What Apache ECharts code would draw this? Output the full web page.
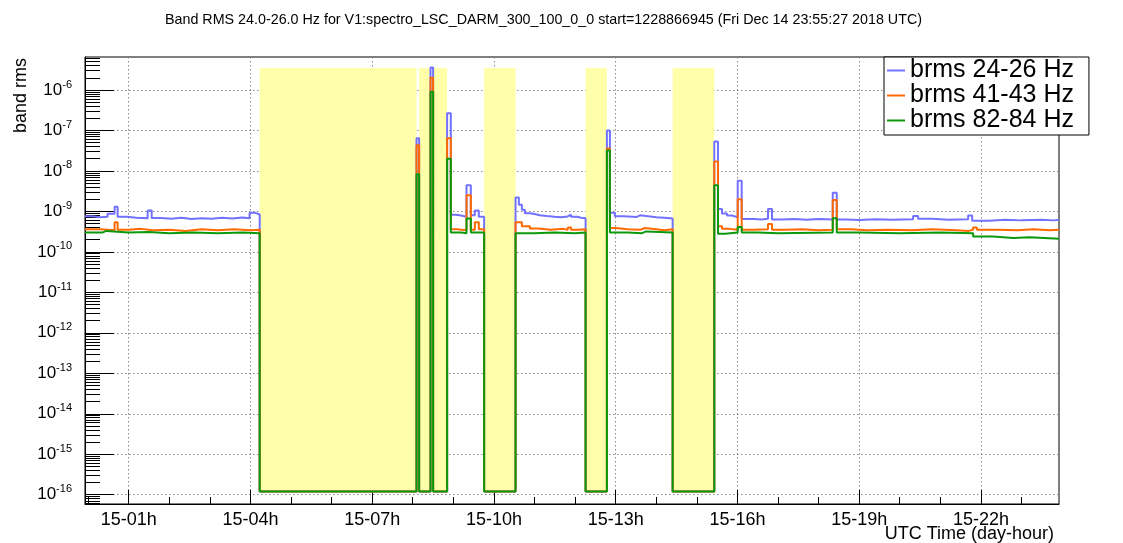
<!DOCTYPE html>
<html lang="en">
<head>
<meta charset="utf-8" />
<title>Band RMS</title>
<script src="https://cdn.jsdelivr.net/npm/echarts@6/dist/echarts.min.js"></script>
<style>
  body { margin: 0; background: #fff; }
  #chart { width: 1123px; height: 543px; }
</style>
</head>
<body>
<div id="chart"></div>
<script>
// hours relative to Dec 15 00:00 UTC; window is start .. start + 24h
var xStart = -0.0758;
var xEnd = 23.924;
// y range as powers of ten
var yLogMin = -16.23;
var yLogMax = -5.185;

var GAP = 1.2e-16;          // level the curves fall to when there is no data
var fillTop = 3.5e-6;       // yellow boxes span min..max of the data
var fillBottom = 1.2e-16;

var majorHours = [1, 4, 7, 10, 13, 16, 19, 22];
var minorHours = [0, 2, 3, 5, 6, 8, 9, 11, 12, 14, 15, 17, 18, 20, 21, 23];
var decades = [-16, -15, -14, -13, -12, -11, -10, -9, -8, -7, -6];

var gapStart = [4.229, 8.157, 8.502, 9.759, 12.259, 14.404];
var gapEnd   = [8.093, 8.438, 8.847, 10.533, 12.784, 15.430];

var names = ['brms 24-26 Hz', 'brms 41-43 Hz', 'brms 82-84 Hz'];
var colors = ['#7272ff', '#ff6a00', '#0a990a'];

// [hour, rms]  (value holds until the next point)
var brms24 = [
  [-0.076, 7.6e-10], [0.10, 7.2e-10], [0.30, 7.4e-10], [0.48, 8.8e-10], [0.654, 1.3e-9], [0.728, 7.4e-10],
  [0.95, 7.0e-10], [1.20, 6.8e-10], [1.468, 1.05e-9], [1.567, 6.9e-10], [1.80, 6.6e-10], [2.05, 7.0e-10],
  [2.30, 6.5e-10], [2.55, 6.8e-10], [2.80, 6.6e-10], [3.05, 7.0e-10], [3.30, 6.7e-10], [3.55, 7.1e-10],
  [3.80, 6.8e-10], [3.98, 9.3e-10], [4.106, 8.4e-10],
  [4.229, GAP], [8.093, 6.4e-8], [8.157, GAP], [8.438, 3.6e-6], [8.502, GAP], [8.847, 2.66e-7],
  [8.938, 8.3e-10], [9.05, 8.0e-10], [9.16, 7.4e-10], [9.325, 4.4e-9], [9.431, 8.0e-10], [9.53, 1.05e-9], [9.628, 7.4e-10],
  [9.759, GAP],
  [10.533, 2.2e-9], [10.615, 1.45e-9], [10.689, 1.1e-9], [10.763, 9.0e-10], [10.886, 8.6e-10], [11.0, 8.0e-10],
  [11.13, 7.7e-10], [11.3, 7.4e-10], [11.5, 7.2e-10], [11.65, 7.5e-10], [11.82, 8.3e-10], [11.9, 7.4e-10],
  [12.05, 7.0e-10], [12.15, 6.8e-10],
  [12.259, GAP], [12.784, 1.0e-7],
  [12.858, 9.3e-10], [12.981, 7.6e-10], [13.2, 7.3e-10], [13.52, 8.0e-10], [13.6, 7.6e-10], [13.8, 7.2e-10],
  [14.0, 7.0e-10], [14.2, 6.7e-10],
  [14.404, GAP], [15.43, 5.3e-8],
  [15.521, 1.15e-9], [15.62, 8.9e-10], [15.743, 7.9e-10], [15.866, 7.2e-10], [16.007, 5.7e-9], [16.105, 6.5e-10],
  [16.4, 6.3e-10], [16.6, 6.6e-10], [16.754, 1.15e-9], [16.852, 6.3e-10], [17.1, 6.5e-10], [17.4, 6.2e-10],
  [17.7, 6.5e-10], [18.0, 6.3e-10], [18.349, 2.9e-9], [18.448, 6.3e-10], [18.7, 6.1e-10], [19.0, 6.4e-10],
  [19.4, 6.2e-10], [19.8, 6.4e-10], [20.329, 7.7e-10], [20.452, 6.6e-10], [20.8, 6.2e-10], [21.2, 6.4e-10],
  [21.685, 7.9e-10], [21.784, 5.9e-10], [22.2, 6.2e-10], [22.6, 6.0e-10], [23.0, 6.2e-10], [23.5, 6.0e-10],
  [23.8, 6.2e-10], [23.924, 6.2e-10]
];

var brms41 = [
  [-0.076, 3.6e-10], [0.30, 3.4e-10], [0.654, 5.4e-10], [0.728, 3.5e-10], [1.0, 3.7e-10], [1.3, 3.4e-10],
  [1.6, 3.5e-10], [2.0, 3.3e-10], [2.4, 3.6e-10], [2.8, 3.4e-10], [3.2, 3.6e-10], [3.6, 3.4e-10], [4.0, 3.5e-10],
  [4.229, GAP], [8.093, 4.3e-8], [8.157, GAP], [8.438, 2.0e-6], [8.502, GAP], [8.847, 6.4e-8],
  [8.938, 3.6e-10], [9.1, 3.4e-10], [9.325, 2.5e-9], [9.431, 3.5e-10], [9.53, 5.4e-10], [9.628, 3.6e-10],
  [9.759, GAP],
  [10.533, 5.4e-10], [10.689, 4.3e-10], [10.886, 3.8e-10], [11.1, 3.5e-10], [11.4, 3.7e-10], [11.7, 3.5e-10],
  [11.82, 4.0e-10], [11.9, 3.5e-10], [12.1, 3.6e-10],
  [12.259, GAP], [12.784, 3.6e-8],
  [12.858, 3.9e-10], [13.0, 3.6e-10], [13.3, 3.5e-10], [13.6, 3.9e-10], [13.72, 3.6e-10], [14.0, 3.4e-10], [14.2, 3.6e-10],
  [14.404, GAP], [15.43, 1.7e-8],
  [15.521, 4.3e-10], [15.62, 3.7e-10], [15.8, 3.5e-10], [16.007, 2.0e-9], [16.105, 3.5e-10], [16.4, 3.6e-10],
  [16.754, 4.9e-10], [16.852, 3.5e-10], [17.2, 3.6e-10], [17.6, 3.4e-10], [18.0, 3.5e-10], [18.349, 1.9e-9],
  [18.448, 3.6e-10], [18.8, 3.4e-10], [19.2, 3.5e-10], [19.7, 3.4e-10], [20.3, 3.6e-10], [20.8, 3.4e-10],
  [21.4, 3.3e-10], [21.7, 3.5e-10], [21.808, 4.0e-10], [21.9, 3.5e-10], [22.4, 3.4e-10], [22.9, 3.6e-10],
  [23.3, 3.4e-10], [23.7, 3.5e-10], [23.924, 3.5e-10]
];

var brms82 = [
  [-0.076, 3.0e-10], [0.35, 3.3e-10], [0.45, 3.0e-10], [1.0, 3.1e-10], [1.5, 2.9e-10], [2.0, 3.0e-10],
  [2.6, 2.9e-10], [3.2, 3.0e-10], [3.8, 2.9e-10],
  [4.229, GAP], [8.093, 8.3e-9], [8.157, GAP], [8.438, 9.1e-7], [8.502, GAP], [8.847, 2.0e-8],
  [8.938, 3.0e-10], [9.2, 2.9e-10], [9.325, 6.7e-10], [9.431, 3.0e-10],
  [9.759, GAP],
  [10.533, 2.9e-10], [11.0, 3.0e-10], [11.5, 2.9e-10], [12.0, 3.0e-10],
  [12.259, GAP], [12.784, 3.2e-8],
  [12.858, 3.0e-10], [13.3, 2.9e-10], [13.65, 3.2e-10], [13.75, 3.0e-10],
  [14.404, GAP], [15.43, 4.4e-9],
  [15.521, 2.8e-10], [15.7, 3.0e-10], [16.007, 4.1e-10], [16.105, 3.0e-10], [16.5, 2.9e-10], [17.0, 3.0e-10],
  [18.349, 6.8e-10], [18.448, 3.0e-10], [19.0, 2.9e-10], [20.0, 3.0e-10], [21.0, 2.9e-10], [21.808, 2.4e-10],
  [22.3, 2.2e-10], [22.8, 2.3e-10], [23.2, 2.1e-10], [23.924, 2.1e-10]
];

// minor log ticks at 2..9 x 10^n
var minorLog = [];
for (var n = -17; n <= -6; n++) {
  for (var m = 2; m <= 9; m++) {
    var lv = n + Math.log10(m);
    if (lv > yLogMin && lv < yLogMax) minorLog.push(lv);
  }
}

var gapAreas = gapStart.map(function (s, i) {
  return [{ xAxis: s, yAxis: fillTop }, { xAxis: gapEnd[i], yAxis: fillBottom }];
});

var font = 'Liberation Sans, Arial, sans-serif';
var gridStyle = { color: '#8a8a8a', type: [1.5, 2.5], width: 1 };

var chart = echarts.init(document.getElementById('chart'));

var option = {
  animation: false,
  textStyle: { fontFamily: font, color: '#000' },
  title: [
    {
      text: 'Band RMS 24.0-26.0 Hz for V1:spectro_LSC_DARM_300_100_0_0 start=1228866945 (Fri Dec 14 23:55:27 2018 UTC)',
      left: 165, top: 13, padding: 0,
      textStyle: { fontSize: 14.3, fontWeight: 'normal', color: '#000', fontFamily: font }
    },
    {
      text: 'UTC Time (day-hour)',
      right: 69, top: 525, padding: 0,
      textStyle: { fontSize: 18, fontWeight: 'normal', color: '#000', fontFamily: font }
    }
  ],
  graphic: [
    {
      type: 'text', left: 12, top: 58, rotation: Math.PI / 2,
      style: { text: 'band rms', fontSize: 18, fontFamily: font, fill: '#000' }
    }
  ],
  legend: {
    orient: 'vertical',
    left: 884, top: 57,
    padding: [1, 15, 2, 3],
    itemGap: 0,
    icon: 'rect',
    itemWidth: 18, itemHeight: 2,
    backgroundColor: '#fff',
    borderColor: '#000', borderWidth: 1, borderRadius: 0,
    textStyle: { fontSize: 25, lineHeight: 24, color: '#000', fontFamily: font },
    data: names
  },
  grid: {
    left: 85, right: 64, top: 57, bottom: 39,
    show: true, borderColor: '#000', borderWidth: 1, backgroundColor: 'transparent'
  },
  xAxis: [
    {
      type: 'value', min: xStart, max: xEnd, position: 'bottom',
      axisLine: { onZero: false, lineStyle: { color: '#000', width: 1 } },
      axisTick: { inside: true, length: 14, customValues: majorHours, lineStyle: { color: '#000' } },
      axisLabel: {
        customValues: majorHours, margin: 7, fontSize: 18, color: '#000', fontFamily: font,
        formatter: function (h) { return '15-' + (h < 10 ? '0' : '') + h + 'h'; }
      },
      splitLine: { show: true, lineStyle: gridStyle }
    },
    {
      type: 'value', min: xStart, max: xEnd, position: 'bottom',
      axisLine: { show: false, onZero: false },
      axisTick: { inside: true, length: 7, customValues: minorHours, lineStyle: { color: '#000' } },
      axisLabel: { show: false },
      splitLine: { show: false }
    }
  ],
  yAxis: [
    {
      type: 'log', min: Math.pow(10, yLogMin), max: Math.pow(10, yLogMax),
      show: false, splitLine: { show: false }
    },
    {
      type: 'value', min: yLogMin, max: yLogMax, position: 'left',
      axisLine: { show: true, onZero: false, lineStyle: { color: '#000', width: 1 } },
      axisTick: { inside: true, length: 29, customValues: decades, lineStyle: { color: '#000' } },
      axisLabel: {
        customValues: decades, margin: 13, color: '#000',
        formatter: function (v) { return '{b|10}{e|' + v + '}'; },
        rich: {
          b: { fontSize: 17, lineHeight: 22, fontFamily: font, color: '#000' },
          e: { fontSize: 11, lineHeight: 12, verticalAlign: 'top', fontFamily: font, color: '#000' }
        }
      },
      splitLine: { show: true, lineStyle: gridStyle }
    },
    {
      type: 'value', min: yLogMin, max: yLogMax, position: 'left',
      axisLine: { show: false, onZero: false },
      axisTick: { inside: true, length: 15, customValues: minorLog, lineStyle: { color: '#000' } },
      axisLabel: { show: false },
      splitLine: { show: false }
    }
  ],
  series: [brms24, brms41, brms82].map(function (d, i) {
    var s = {
      name: names[i],
      type: 'line',
      step: 'end',
      symbol: 'none',
      xAxisIndex: 0,
      yAxisIndex: 0,
      z: 2 + i,
      data: d,
      lineStyle: { color: colors[i], width: 2 },
      itemStyle: { color: colors[i] },
      emphasis: { disabled: true }
    };
    if (i === 0) {
      s.markArea = {
        silent: true,
        label: { show: false },
        itemStyle: { color: '#ffffaa', opacity: 1 },
        data: gapAreas
      };
    }
    return s;
  })
};

chart.setOption(option);
</script>
</body>
</html>
